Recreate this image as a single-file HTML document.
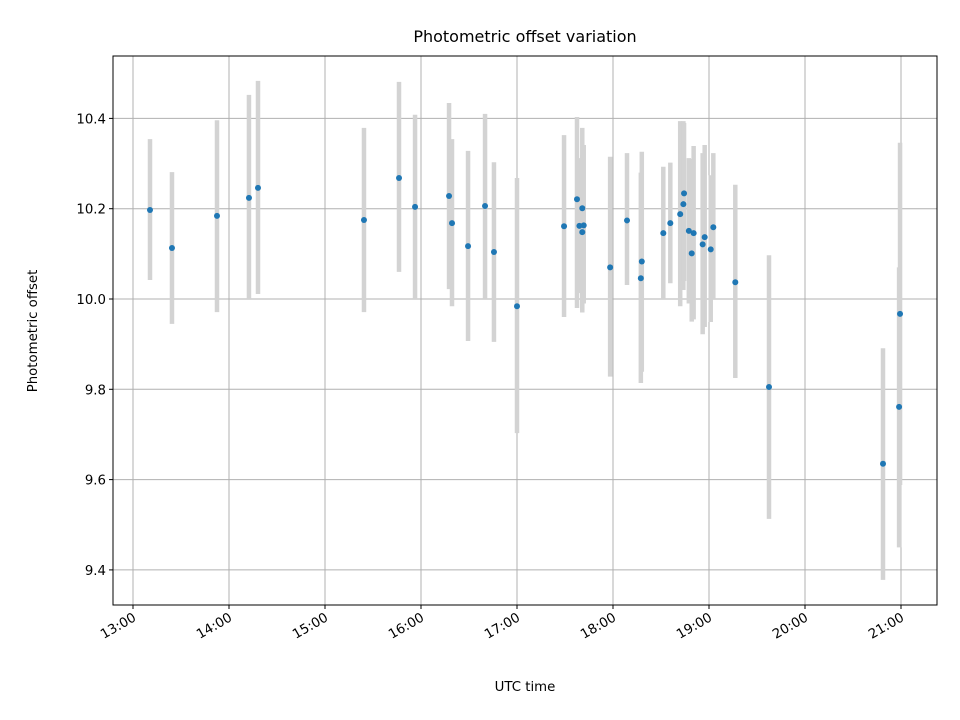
<!DOCTYPE html>
<html><head><meta charset="utf-8"><style>
body{margin:0;background:#fff}
svg{display:block;font-family:"DejaVu Sans","Liberation Sans",sans-serif}
</style></head><body>
<svg id="chart" width="960" height="720" viewBox="0 0 960 720">
<rect width="960" height="720" fill="#fff"/>
<g id="grid"></g><g id="bars"></g><g id="pts"></g><g id="axes"></g>
<text x="525" y="42" font-size="16" text-anchor="middle">Photometric offset variation</text>
<text x="525" y="691" font-size="13.3" text-anchor="middle">UTC time</text>
<text transform="translate(37,331) rotate(-90)" font-size="13.3" text-anchor="middle">Photometric offset</text>
</svg>
<script>
const times=[13.177,13.406,13.875,14.208,14.302,15.406,15.771,15.938,16.292,16.323,16.49,16.667,16.76,17.0,17.49,17.625,17.68,17.65,17.695,17.68,17.97,18.146,18.30,18.29,18.524,18.597,18.70,18.733,18.74,18.79,18.84,18.82,18.955,18.934,19.018,19.045,19.274,19.625,20.8125,20.99,20.98];
const offsets=[10.197,10.113,10.184,10.224,10.246,10.175,10.268,10.204,10.228,10.168,10.117,10.206,10.104,9.984,10.161,10.221,10.201,10.162,10.163,10.148,10.070,10.174,10.083,10.046,10.146,10.168,10.188,10.210,10.234,10.151,10.146,10.101,10.137,10.121,10.110,10.159,10.037,9.805,9.635,9.967,9.761];
const lows=[10.042,9.945,9.971,9.998,10.011,9.971,10.060,10.0,10.022,9.984,9.907,10.002,9.905,9.703,9.96,9.98,9.976,10.013,9.99,9.97,9.828,10.031,9.839,9.814,9.998,10.035,9.984,10.02,10.04,9.99,9.955,9.95,9.938,9.922,9.949,9.998,9.825,9.513,9.378,9.588,9.45];
const highs=[10.354,10.281,10.396,10.452,10.483,10.379,10.481,10.408,10.434,10.354,10.328,10.410,10.303,10.268,10.363,10.403,10.379,10.312,10.341,10.32,10.315,10.323,10.326,10.28,10.293,10.302,10.394,10.394,10.39,10.312,10.339,10.31,10.341,10.323,10.274,10.323,10.253,10.097,9.891,10.346,10.07];
const xTicks=[13,14,15,16,17,18,19,20,21];
const xTickLabels=["13:00","14:00","15:00","16:00","17:00","18:00","19:00","20:00","21:00"];
const yTicks=[9.4,9.6,9.8,10.0,10.2,10.4];
const yTickLabels=["9.4","9.6","9.8","10.0","10.2","10.4"];
const L=113,R=937,T=56,B=605;
const xs=t=>133+(t-13)*96;
const ys=v=>299-(v-10)*451.5;
const NS="http://www.w3.org/2000/svg";
function mk(tag,attrs,parent){const e=document.createElementNS(NS,tag);for(const k in attrs)e.setAttribute(k,attrs[k]);parent.appendChild(e);return e;}
const grid=document.getElementById('grid'),bars=document.getElementById('bars'),pts=document.getElementById('pts'),axes=document.getElementById('axes');
xTicks.forEach((t,i)=>{
 const x=xs(t);
 const g=mk('line',{x1:x,x2:x,y1:T,y2:B,stroke:'#b0b0b0','stroke-width':1},grid);
 
 
 mk('line',{x1:x,x2:x,y1:B,y2:B+4,stroke:'#000','stroke-width':1},axes);
 const tx=mk('text',{x:x+4,y:B+15,'font-size':13.3,'text-anchor':'end',transform:`rotate(-30 ${x+4} ${B+15})`},axes);
 
 
 tx.textContent=xTickLabels[i];
});
yTicks.forEach((v,i)=>{
 const y=ys(v);
 const g=mk('line',{x1:L,x2:R,y1:y,y2:y,stroke:'#b0b0b0','stroke-width':1},grid);
 
 
 mk('line',{x1:L-4,x2:L,y1:y,y2:y,stroke:'#000','stroke-width':1},axes);
 const tx=mk('text',{x:L-7,y:y+5,'font-size':13.3,'text-anchor':'end'},axes);
 
 
 tx.textContent=yTickLabels[i];
});
times.forEach((t,i)=>{
 const x=xs(t);
 const b=mk('line',{x1:x,x2:x,y1:ys(highs[i]),y2:ys(lows[i]),stroke:'#d3d3d3','stroke-width':4.5},bars);
 
 
 const c=mk('circle',{cx:x,cy:ys(offsets[i]),r:3,fill:'#1f77b4'},pts);
 
 
});
const fr=mk('rect',{x:L,y:T,width:R-L,height:B-T,fill:'none',stroke:'#000','stroke-width':1},axes);


</script>
</body></html>
